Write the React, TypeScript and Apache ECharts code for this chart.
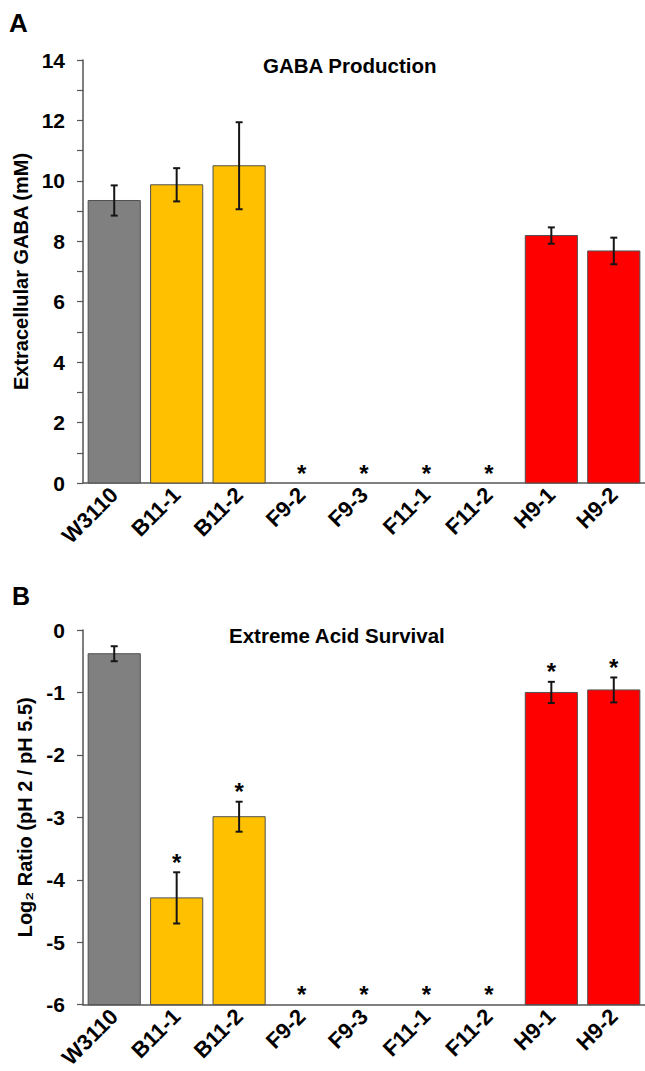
import React, { useEffect, useRef } from "react";
import * as echarts from "echarts";

const categories = ["W3110", "B11-1", "B11-2", "F9-2", "F9-3", "F11-1", "F11-2", "H9-1", "H9-2"];
const barColors = ["#808080", "#FFC000", "#FFC000", "#FFC000", "#FFC000", "#9DC3E6", "#9DC3E6", "#FF0000", "#FF0000"];

const gabaMean = [9.35, 9.87, 10.5, 0, 0, 0, 0, 8.19, 7.68];
const gabaErr = [0.5, 0.55, 1.44, 0, 0, 0, 0, 0.27, 0.44];
const gabaSig = [0, 0, 0, 1, 1, 1, 1, 0, 0];

const acidMean = [-0.38, -4.29, -2.99, -6, -6, -6, -6, -1.0, -0.96];
const acidErr = [0.12, 0.41, 0.24, 0, 0, 0, 0, 0.17, 0.2];
const acidSig = [0, 1, 1, 1, 1, 1, 1, 1, 1];

const gabaTicks = { min: 0, max: 14, interval: 1, labelEvery: 2 };
const acidTicks = { min: -6, max: 0, interval: 1, labelEvery: 1 };

const FONT = "Liberation Sans, Arial, sans-serif";

function barSeries(idx: number, mean: number[], base: number) {
  return {
    type: "custom",
    xAxisIndex: idx,
    yAxisIndex: idx,
    clip: false,
    data: categories.map((c, i) => [i, mean[i]]),
    encode: { x: 0, y: 1 },
    renderItem: (params: any, api: any) => {
      const i = api.value(0);
      const v = api.value(1);
      if (v === base) return null;
      const b = api.coord([i, base]);
      const t = api.coord([i, v]);
      const w = api.size([1, 0])[0] * 0.835;
      return {
        type: "rect",
        shape: { x: b[0] - w / 2, y: t[1], width: w, height: b[1] - t[1] },
        style: { fill: barColors[i], stroke: "#505050", lineWidth: 1 },
      };
    },
    z: 2,
  };
}

function errSeries(idx: number, mean: number[], err: number[], sig: number[]) {
  return {
    type: "custom",
    xAxisIndex: idx,
    yAxisIndex: idx,
    clip: false,
    data: categories.map((c, i) => [i, mean[i], err[i], sig[i]]),
    encode: { x: 0, y: 1 },
    renderItem: (params: any, api: any) => {
      const i = api.value(0);
      const v = api.value(1);
      const e = api.value(2);
      const s = api.value(3);
      const children: any[] = [];
      const top = api.coord([i, v + e]);
      if (e > 0) {
        const bot = api.coord([i, v - e]);
        const cap = 3.5;
        const st = { stroke: "#151515", lineWidth: 2 };
        children.push({ type: "line", shape: { x1: top[0], y1: top[1], x2: bot[0], y2: bot[1] }, style: st });
        children.push({ type: "line", shape: { x1: top[0] - cap, y1: top[1], x2: top[0] + cap, y2: top[1] }, style: st });
        children.push({ type: "line", shape: { x1: bot[0] - cap, y1: bot[1], x2: bot[0] + cap, y2: bot[1] }, style: st });
      }
      if (s) {
        children.push({
          type: "text",
          style: {
            text: "*",
            x: top[0],
            y: top[1] - 10,
            align: "center",
            verticalAlign: "middle",
            fontSize: 24,
            fontWeight: "bold",
            fontFamily: FONT,
            fill: "#000",
          },
        });
      }
      return { type: "group", children };
    },
    z: 3,
  };
}

function yAxis(idx: number, t: any, name: string) {
  return {
    type: "value",
    gridIndex: idx,
    min: t.min,
    max: t.max,
    interval: t.interval,
    name,
    nameLocation: "middle",
    nameGap: 48,
    nameTextStyle: { fontSize: 20, fontWeight: "bold", fontFamily: FONT, color: "#000" },
    axisLine: { show: true, onZero: false, lineStyle: { color: "#555", width: 1.5 } },
    axisTick: { show: true, length: 6, lineStyle: { color: "#555", width: 1.2 } },
    splitLine: { show: false },
    axisLabel: {
      margin: 18,
      fontSize: 21,
      fontWeight: "bold",
      fontFamily: FONT,
      color: "#000",
      formatter: (val: number) => (Math.round(val - t.min) % t.labelEvery === 0 ? String(val) : ""),
    },
  };
}

function xAxis(idx: number) {
  return {
    type: "category",
    gridIndex: idx,
    data: categories,
    axisLine: { show: true, onZero: false, lineStyle: { color: "#555", width: 1.5 } },
    axisTick: { show: false },
    axisLabel: {
      rotate: 45,
      interval: 0,
      margin: 8,
      fontSize: 22,
      fontWeight: "bold",
      fontFamily: FONT,
      color: "#000",
    },
  };
}

export default function App() {
  const ref = useRef<HTMLDivElement>(null);
  useEffect(() => {
    if (!ref.current) return;
    const chart = echarts.init(ref.current, null, { renderer: "svg" });
    chart.setOption({
      animation: false,
      backgroundColor: "#fff",
      grid: [
        { left: 83, top: 60, width: 564, height: 423 },
        { left: 83, top: 630, width: 564, height: 376 },
      ],
      xAxis: [xAxis(0), xAxis(1)],
      yAxis: [
        yAxis(0, gabaTicks, "Extracellular GABA (mM)"),
        yAxis(1, acidTicks, "Log\u2082 Ratio (pH 2 / pH 5.5)"),
      ],
      series: [
        barSeries(0, gabaMean, 0),
        errSeries(0, gabaMean, gabaErr, gabaSig),
        barSeries(1, acidMean, -6),
        errSeries(1, acidMean, acidErr, acidSig),
      ],
      graphic: [
        { type: "text", left: 9, top: 10, style: { text: "A", fontSize: 26, fontWeight: "bold", fontFamily: FONT, fill: "#000" } },
        { type: "text", left: 12, top: 583, style: { text: "B", fontSize: 25, fontWeight: "bold", fontFamily: FONT, fill: "#000" } },
        { type: "text", left: 263, top: 55, style: { text: "GABA Production", fontSize: 20.5, fontWeight: "bold", fontFamily: FONT, fill: "#000" } },
        { type: "text", left: 229, top: 625, style: { text: "Extreme Acid Survival", fontSize: 20.5, fontWeight: "bold", fontFamily: FONT, fill: "#000" } },
      ],
    });
    return () => chart.dispose();
  }, []);
  return <div ref={ref} style={{ position: "absolute", left: 0, top: 0, width: 645, height: 1071 }} />;
}
